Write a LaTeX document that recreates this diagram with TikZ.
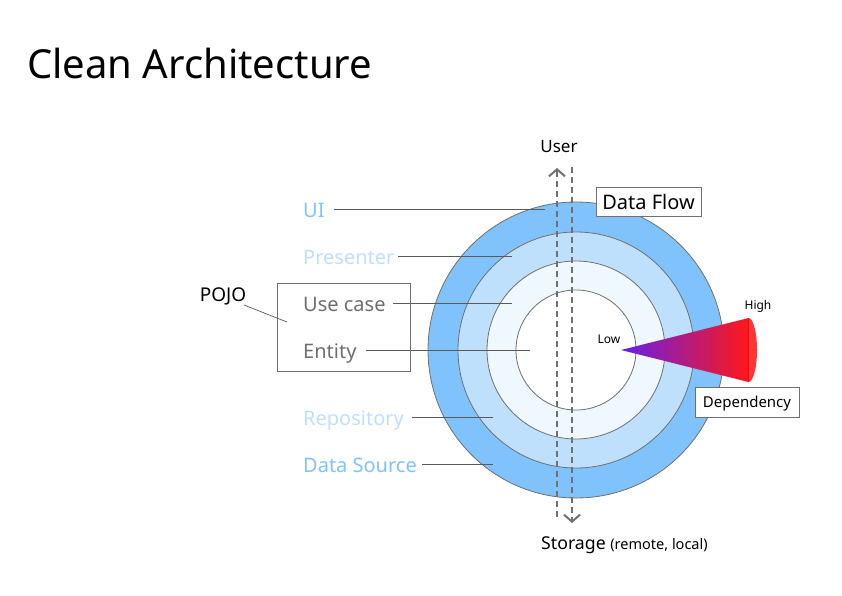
\documentclass[tikz,border=0pt]{standalone}
\usepackage{fontspec}
\setmainfont{Noto Sans}
\usetikzlibrary{arrows.meta}

\definecolor{ringA}{HTML}{80C2FC}
\definecolor{ringB}{HTML}{BFE0FC}
\definecolor{ringC}{HTML}{EFF7FF}
\definecolor{lineGray}{HTML}{707070}
\definecolor{textGray}{HTML}{6E6E6E}
\definecolor{wedgeL}{HTML}{6420E8}
\definecolor{wedgeR}{HTML}{FF1818}
\definecolor{wedgeEnd}{HTML}{FF3434}

\tikzset{
  ring/.style={draw=lineGray, line width=0.8pt},
  lead/.style={draw=lineGray!80!black, line width=0.7pt},
  layer/.style={anchor=base west, inner sep=0pt, font=\fontsize{20}{24}\selectfont},
  flow/.style={draw=lineGray, line width=2pt, dash pattern=on 6pt off 4pt,
    -{Straight Barb[length=7pt,width=16pt,line width=2pt]}},
  tagbox/.style={draw=lineGray, fill=white, line width=0.8pt, inner sep=0pt}
}

\begin{document}
\begin{tikzpicture}[x=1pt,y=-1pt]
\useasboundingbox (0,0) rectangle (842,595);

\node[anchor=base west, inner sep=0pt, font=\fontsize{40}{48}\selectfont] (title) at (27,78) {Clean Architecture};

% layers
\coordinate (C) at (576,350);
\draw[ring, fill=ringA] (C) circle[radius=148];
\draw[ring, fill=ringB] (C) circle[radius=118];
\draw[ring, fill=ringC] (C) circle[radius=89];
\draw[ring, fill=white] (C) circle[radius=60];

% data flow
\coordinate (upS) at (557,517);
\coordinate (upE) at (557,168);
\coordinate (downS) at (572,167);
\coordinate (downE) at (572,523);
\draw[flow] (upS) -- (upE);
\draw[flow] (downS) -- (downE);

\node[font=\fontsize{17}{20}\selectfont] (user) at (559,147) {User};
\node[anchor=base west, inner sep=0pt, font=\fontsize{17.7}{21}\selectfont] (storage) at (541,549)
  {Storage {\fontsize{14.5}{17}\selectfont(remote, local)}};

% labels
\node[layer, text=ringA] (ui) at (303,217) {UI};
\node[layer, text=ringB] (presenter) at (303,264) {Presenter};
\node[layer, text=textGray] (usecase) at (303,311) {Use case};
\node[layer, text=textGray] (entity) at (303,358) {Entity};
\node[layer, text=ringB] (repository) at (303,425) {Repository};
\node[layer, text=ringA] (datasource) at (303,472) {Data Source};

\coordinate (uiEnd) at (545,209);
\coordinate (presenterEnd) at (512,256);
\coordinate (usecaseEnd) at (512,303);
\coordinate (entityEnd) at (530,350);
\coordinate (repositoryEnd) at (493,417);
\coordinate (datasourceEnd) at (493,464);

\draw[lead] (334,209) -- (uiEnd);
\draw[lead] (398,256) -- (presenterEnd);
\draw[lead] (393,303) -- (usecaseEnd);
\draw[lead] (366,350) -- (entityEnd);
\draw[lead] (412,417) -- (repositoryEnd);
\draw[lead] (422,464) -- (datasourceEnd);

% pojo
\node[draw=lineGray, line width=0.8pt, minimum width=133pt, minimum height=88pt, inner sep=0pt] (pojobox) at (343.5,327) {};
\node[font=\fontsize{19}{23}\selectfont] (pojo) at (223,296) {POJO};
\coordinate (pojoEnd) at (287,322);
\draw[lead] (244,305) -- (pojoEnd);

% dependency
\coordinate (tip) at (621,350);
\shade[left color=wedgeL, right color=wedgeR] (tip) -- (748.5,318) -- (748.5,382) -- cycle;
\fill[wedgeEnd] (748.5,382) arc[start angle=90, end angle=-90, x radius=8.5, y radius=32] -- cycle;
\draw[wedgeR!85!black, line width=0.4pt] (748.5,318) -- (748.5,382);
\node[font=\fontsize{12}{14}\selectfont] (high) at (758,306) {High};
\node[font=\fontsize{12}{14}\selectfont] (low) at (609,339) {Low};

% tags
\node[tagbox, minimum width=105pt, minimum height=29pt, font=\fontsize{20}{24}\selectfont] (dataflow) at (648.5,201.5) {Data Flow};
\node[tagbox, minimum width=104pt, minimum height=30pt, text depth=0pt, font=\fontsize{15}{18}\selectfont] (dependency) at (747,402) {Dependency};

\end{tikzpicture}
\end{document}
